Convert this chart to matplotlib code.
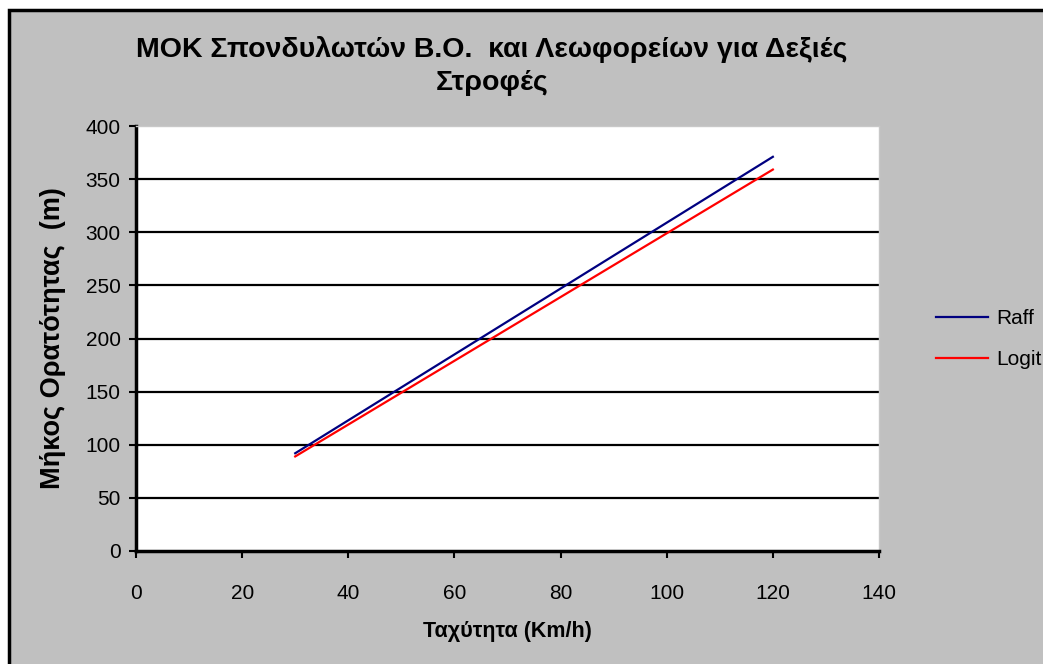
import matplotlib
matplotlib.use("Agg")
import matplotlib.pyplot as plt
from matplotlib.patches import Rectangle

plt.rcParams['font.family'] = ['Liberation Sans', 'DejaVu Sans']

# Speed (km/h) and sight distance (m) for each model
speeds = [30, 40, 50, 60, 70, 80, 90, 100, 110, 120]
raff = [92, 123, 154, 185, 216, 247, 278, 309, 340, 371]
logit = [89, 119, 149, 179, 209, 239, 269, 299, 329, 359]

title = "ΜΟΚ Σπονδυλωτών Β.Ο.  και Λεωφορείων για Δεξιές\nΣτροφές"
xlabel = "Ταχύτητα (Km/h)"
ylabel = "Μήκος Ορατότητας  (m)"
xticks = [0, 20, 40, 60, 80, 100, 120, 140]
yticks = [0, 50, 100, 150, 200, 250, 300, 350, 400]

W, H = 1043, 664
fig = plt.figure(figsize=(W / 100, H / 100), dpi=100)
fig.patch.set_facecolor('white')

# grey chart area with black frame
fig.add_artist(Rectangle((8.5 / W, -0.05), 1.1, (H - 10) / H + 0.05,
                         transform=fig.transFigure, facecolor='#c0c0c0',
                         edgecolor='black', linewidth=2.5, zorder=-10))

ax = fig.add_axes([136 / W, (H - 551) / H, (879 - 136) / W, (551 - 126) / H])
ax.set_zorder(1)
ax.set_facecolor('white')

for y in yticks[1:-1]:
    ax.axhline(y, color='black', linewidth=1.6, zorder=1)

ax.plot(speeds, raff, color='#000080', linewidth=1.6, label='Raff', zorder=3)
ax.plot(speeds, logit, color='#ff0000', linewidth=1.6, label='Logit', zorder=3)

ax.set_xlim(0, 140)
ax.set_ylim(0, 400)
ax.set_xticks(xticks)
ax.set_yticks(yticks)
ax.tick_params(axis='both', direction='out', length=5, width=1.5, labelsize=15,
               color='black')
ax.tick_params(axis='x', pad=19)
ax.tick_params(axis='y', pad=6)

for s in ['left', 'bottom']:
    ax.spines[s].set_linewidth(2.5)
    ax.spines[s].set_color('black')
for s in ['top', 'right']:
    ax.spines[s].set_linewidth(1.0)
    ax.spines[s].set_color('#c8c8c8')

ax.set_xlabel(xlabel, fontsize=15.5, fontweight='bold', labelpad=13)
ax.set_ylabel(ylabel, fontsize=19.5, fontweight='bold', labelpad=14)

fig.text(492 / W, 1 - 66 / H, title, ha='center', va='center', fontsize=20.5,
         fontweight='bold', linespacing=1.35)

ax.legend(loc='center left', bbox_to_anchor=(928 / W, 1 - 339 / H),
          bbox_transform=fig.transFigure, frameon=False, fontsize=15,
          handlelength=2.5, handletextpad=0.4, labelspacing=1.05,
          borderaxespad=0)

fig.savefig('out.png', dpi=100)
